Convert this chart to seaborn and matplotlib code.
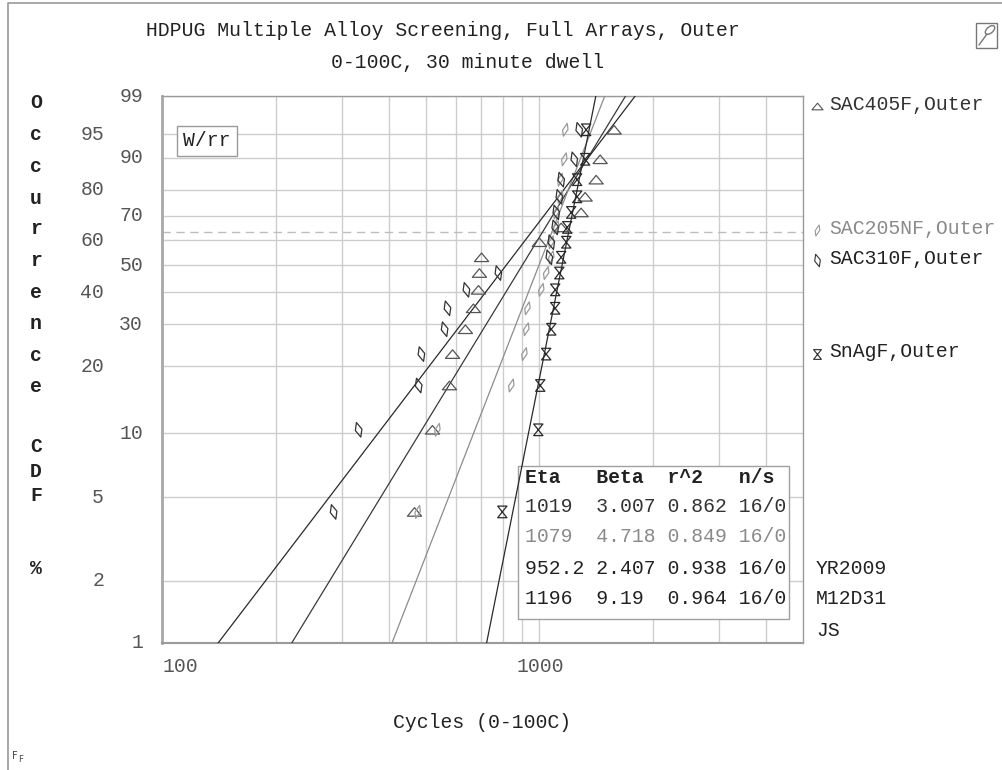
import numpy as np
import pandas as pd
import matplotlib
matplotlib.use("Agg")
import matplotlib.pyplot as plt
from matplotlib.path import Path
from matplotlib.lines import Line2D
from matplotlib.patches import Rectangle, Ellipse
from matplotlib.ticker import NullFormatter
import seaborn as sns

# ---------------- data ----------------
series = ["SAC405F,Outer", "SAC205NF,Outer", "SAC310F,Outer", "SnAgF,Outer"]
rank_pct = [4.27, 10.37, 16.46, 22.56, 28.66, 34.76, 40.85, 46.95,
            53.05, 59.15, 65.24, 71.34, 77.44, 83.54, 89.63, 95.73]
sac405f = [467, 521, 578, 589, 637, 669, 690, 694, 703, 1000, 1143, 1291, 1323, 1415, 1450, 1579]
sac205nf = [476, 537, 843, 913, 924, 930, 1012, 1043, 1076, 1076, 1109, 1109, 1137, 1137, 1165, 1172]
sac310f = [285, 332, 479, 487, 561, 571, 641, 779, 1063, 1076, 1102, 1109, 1130, 1143, 1238, 1276]
snagf = [798, 994, 1006, 1043, 1076, 1102, 1102, 1130, 1143, 1179, 1186, 1215, 1260, 1260, 1323, 1331]
eta = [1019, 1079, 952.2, 1196]
beta = [3.007, 4.718, 2.407, 9.19]
r_squared = [0.862, 0.849, 0.938, 0.964]
n_s = ["16/0", "16/0", "16/0", "16/0"]
y_ticks_inner = [1, 10, 30, 50, 70, 90, 99]
y_ticks_outer = [2, 5, 20, 40, 60, 80, 95]
x_major = [100, 1000]
x_minor = [200, 300, 400, 500, 600, 700, 800, 900, 2000, 3000, 4000]
stamp = ["YR2009", "M12D31", "JS"]

failures = [sac405f, sac205nf, sac310f, snagf]

# ---------------- styling ----------------
sns.set_style("white")
plt.rcParams["font.family"] = ["Liberation Mono", "DejaVu Sans Mono"]
FS = 14.2

marker_color = ["#555555", "#9a9a9a", "#333333", "#2a2a2a"]
line_color = ["#3a3a3a", "#8c8c8c", "#2a2a2a", "#2a2a2a"]
text_color = ["#333333", "#8a8a8a", "#222222", "#222222"]

# custom hollow marker shapes
tri = Path([(-1, -0.6), (1, -0.6), (0, 0.6), (-1, -0.6)],
           [Path.MOVETO, Path.LINETO, Path.LINETO, Path.CLOSEPOLY])
rh_right = Path([(0.3, 1), (0.42, 0.05), (-0.3, -1), (-0.42, -0.05), (0.3, 1)],
                [Path.MOVETO, Path.LINETO, Path.LINETO, Path.LINETO, Path.CLOSEPOLY])
rh_left = Path([(-0.3, 1), (0.45, 0.1), (0.3, -1), (-0.45, -0.1), (-0.3, 1)],
               [Path.MOVETO, Path.LINETO, Path.LINETO, Path.LINETO, Path.CLOSEPOLY])
hourglass = Path([(-0.4, 0.5), (0.4, 0.5), (-0.4, -0.5), (0.4, -0.5), (-0.4, 0.5)],
                 [Path.MOVETO, Path.LINETO, Path.LINETO, Path.LINETO, Path.CLOSEPOLY])
markers = [tri, rh_right, rh_left, hourglass]
msize = [105, 85, 110, 70]


def weib(p):
    p = np.asarray(p, dtype=float) / 100.0
    return np.log(-np.log(1.0 - p))


W, H = 1003, 770
fig = plt.figure(figsize=(W / 100, H / 100), dpi=100)
ax = fig.add_axes([162 / W, 1 - 643 / H, (803 - 162) / W, (643 - 96) / H])


def fx(px):
    return px / W


def fy(py):
    return 1 - py / H


ax.set_xscale("log")
ax.set_xlim(100, 5000)
ax.set_ylim(weib(1), weib(99))
ax.set_xticks(x_major)
ax.set_xticks(x_minor, minor=True)
ax.xaxis.set_major_formatter(NullFormatter())
ax.xaxis.set_minor_formatter(NullFormatter())
all_y = sorted(y_ticks_inner + y_ticks_outer)
ax.set_yticks(weib(all_y))
ax.set_yticklabels([])
ax.grid(which="both", color="#cdcdcd", linewidth=1.0)
ax.tick_params(axis="x", which="both", length=10, width=1, color="#c4c4c4", direction="out")
ax.tick_params(axis="y", which="both", length=7, width=1, color="#c4c4c4", direction="out")
for side in ["top", "right", "bottom"]:
    ax.spines[side].set_color("#9a9a9a")
    ax.spines[side].set_linewidth(1.0)
ax.spines["left"].set_color("#a8a8a8")
ax.spines["left"].set_linewidth(2.0)
ax.spines["bottom"].set_linewidth(1.5)
ax.set_axisbelow(True)

# characteristic-life reference (63.2 %)
ax.axhline(0.0, color="#bdbdbd", linewidth=1.0, linestyle=(0, (6, 4)), zorder=1)

# parameter table background sits above the grid but under the fit lines
ax.add_patch(Rectangle((fx(518), fy(619)), (789 - 518) / W, (619 - 466) / H,
                       transform=fig.transFigure, fc="white", ec="#a0a0a0", lw=1,
                       zorder=2.5, clip_on=False))

# fitted Weibull lines from eta / beta
for i in range(4):
    lo = eta[i] * (-np.log(0.99)) ** (1 / beta[i])
    hi = eta[i] * (-np.log(0.01)) ** (1 / beta[i])
    xs = np.geomspace(lo, hi, 60)
    ys = beta[i] * (np.log(xs) - np.log(eta[i]))
    sns.lineplot(x=xs, y=ys, color=line_color[i], linewidth=0.9, sort=False,
                 estimator=None, ax=ax, zorder=3)

# failure points at median ranks
for i in range(4):
    df = pd.DataFrame({"cycles": failures[i], "F": weib(rank_pct)})
    sns.scatterplot(data=df, x="cycles", y="F", marker=markers[i], s=msize[i],
                    color=marker_color[i], facecolors="none",
                    edgecolor=marker_color[i], linewidth=0.9, ax=ax, zorder=4)
ax.set_xlabel("")
ax.set_ylabel("")

# y tick labels in two staggered columns
ytr = ax.get_yaxis_transform()
for v in y_ticks_inner:
    ax.text((143 - 162) / 641, weib(v), str(v), transform=ytr, ha="right", va="center",
            fontsize=FS, color="#555555")
for v in y_ticks_outer:
    ax.text((104 - 162) / 641, weib(v), str(v), transform=ytr, ha="right", va="center",
            fontsize=FS, color="#555555")

# x tick labels
fig.text(fx(180), fy(667), "100", ha="center", va="center", fontsize=FS, color="#555555")
fig.text(fx(540), fy(667), "1000", ha="center", va="center", fontsize=FS, color="#555555")

# titles and axis labels
fig.text(fx(443), fy(30), "HDPUG Multiple Alloy Screening, Full Arrays, Outer",
         ha="center", va="center", fontsize=FS, color="#222222")
fig.text(fx(468), fy(62), "0-100C, 30 minute dwell",
         ha="center", va="center", fontsize=FS, color="#222222")
fig.text(fx(482), fy(723), "Cycles (0-100C)", ha="center", va="center",
         fontsize=FS, color="#222222")

ylabel_chars = list("Occurrence") + [""] + list("CDF") + ["", "%"]
ylabel_y = [103, 134.6, 166, 198, 229, 261, 293, 324, 356, 387, 0, 446, 471, 495, 0, 568]
for ch, py in zip(ylabel_chars, ylabel_y):
    if ch:
        fig.text(fx(36), fy(py), ch, ha="center", va="center", fontsize=FS,
                 fontweight="bold", color="#222222")

# method box
fig.text(fx(207), fy(141), "W/rr", ha="center", va="center", fontsize=FS,
         color="#222222", bbox=dict(boxstyle="square,pad=0.3", fc="white", ec="#9a9a9a", lw=1))

# parameter table text
fig.text(fx(525), fy(477), f"{'Eta':<6}{'Beta':<6}{'r^2':<6}n/s", ha="left", va="center",
         fontsize=FS, fontweight="bold", color="#222222", zorder=6)
row_y = [507, 537, 568, 599]
for i in range(4):
    row = f"{eta[i]:<6.4g}{beta[i]:<6.4g}{r_squared[i]:<6.3f}{n_s[i]}"
    fig.text(fx(525), fy(row_y[i]), row, ha="left", va="center", fontsize=FS,
             color=text_color[i], zorder=6)

# series legend at right
leg_y = [104, 228, 258, 352]
leg_ms = [8, 8, 9, 7]
for i in range(4):
    fig.add_artist(Line2D([fx(817)], [fy(leg_y[i] + 2)], marker=markers[i], markersize=leg_ms[i],
                          mfc="none", mec=marker_color[i], mew=0.8, linestyle="none",
                          transform=fig.transFigure))
    fig.text(fx(829), fy(leg_y[i]), series[i], ha="left", va="center", fontsize=FS,
             color=text_color[i])

for txt, py in zip(stamp, [569, 599, 630]):
    fig.text(fx(816), fy(py), txt, ha="left", va="center", fontsize=FS, color="#222222")

# small corner marks
fig.text(fx(12), fy(756), "F", ha="left", va="center", fontsize=7, color="#444444",
         family="DejaVu Sans")
fig.text(fx(18), fy(759), "F", ha="left", va="center", fontsize=6, color="#444444",
         family="DejaVu Sans")
fig.add_artist(Rectangle((fx(976), fy(48)), 21 / W, 25 / H, transform=fig.transFigure,
                         fc="none", ec="#777777", lw=1))
fig.add_artist(Ellipse((fx(990), fy(30)), 7 / W, 10 / H, angle=-35, transform=fig.transFigure,
                       fc="none", ec="#777777", lw=1))
fig.add_artist(Line2D([fx(987), fx(979)], [fy(34), fy(45)], color="#777777", lw=1,
                      transform=fig.transFigure))

# outer frame
fig.add_artist(Line2D([fx(8), fx(8), fx(1003)], [fy(770), fy(3), fy(3)], color="#9a9a9a",
                      lw=1.2, transform=fig.transFigure))

fig.savefig("out.png", dpi=100)
